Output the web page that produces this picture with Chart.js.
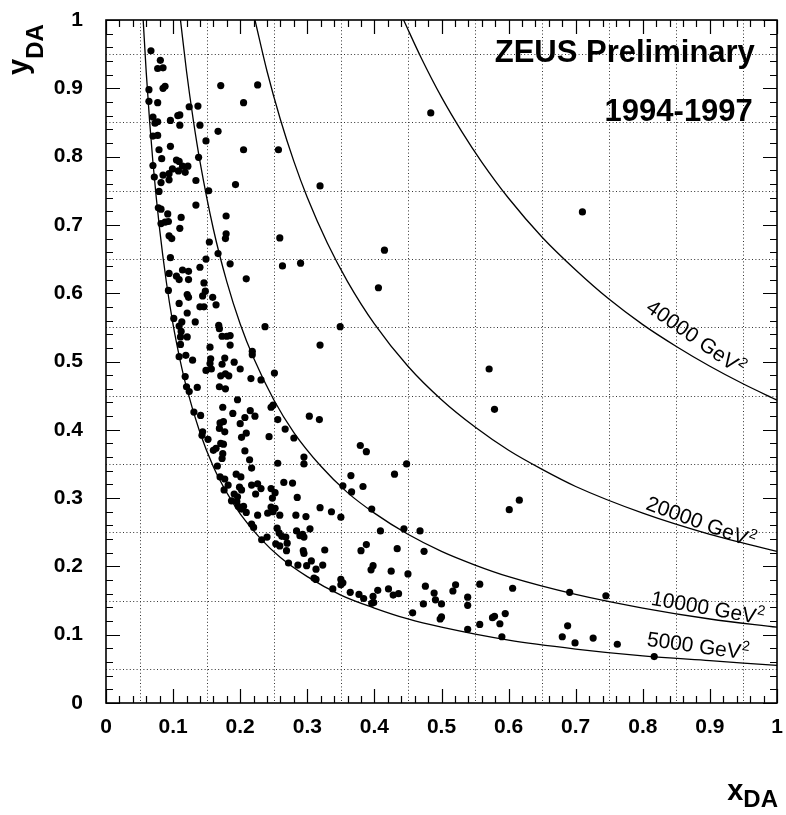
<!DOCTYPE html>
<html><head><meta charset="utf-8">
<script src="https://cdn.jsdelivr.net/npm/chart.js@4.4.1/dist/chart.umd.min.js"></script>
<style>html,body{margin:0;padding:0;background:#fff;}canvas{display:block;}</style>
</head><body>
<canvas id="c" width="786" height="815"></canvas>
<script>
// ---------- data ----------
const tickValues = [0,0.1,0.2,0.3,0.4,0.5,0.6,0.7,0.8,0.9,1];
const tickLabels = ['0','0.1','0.2','0.3','0.4','0.5','0.6','0.7','0.8','0.9','1'];
const gridValues = [0.05,0.15,0.25,0.35,0.45,0.55,0.65,0.75,0.85,0.95];

const ptsX = [
0.067,0.081,0.077,0.085,0.064,0.085,0.088,0.171,0.064,0.077,0.205,0.124,0.137,0.070,0.073,0.077,0.096,0.107,0.110,0.110,
0.140,0.070,0.077,0.167,0.149,0.079,0.096,0.205,0.083,0.105,0.109,0.138,0.070,0.114,0.122,0.099,0.108,0.118,0.085,0.072,
0.094,0.094,0.082,0.134,0.193,0.153,0.079,0.134,0.078,0.082,
0.092,0.112,0.179,0.082,0.088,0.093,0.110,0.179,0.178,0.094,0.098,0.154,0.167,0.096,0.149,0.185,0.140,0.114,0.123,0.094,
0.105,0.109,0.123,0.209,0.146,0.093,0.148,0.121,0.123,0.144,0.159,0.109,0.164,0.140,0.146,0.121,0.101,0.133,0.113,0.109,
0.168,0.169,0.112,0.111,0.121,0.173,0.180,0.185,0.111,0.185,0.155,0.218,0.218,0.109,0.119,0.129,0.156,0.177,0.191,0.155,
0.149,0.157,0.173,0.200,0.171,0.178,0.183,0.118,0.216,0.231,0.120,0.124,0.136,0.169,0.178,0.196,
0.226,0.484,0.257,0.319,0.259,0.415,0.263,0.290,0.406,0.237,0.349,0.319,0.251,0.710,0.571,
0.131,0.141,0.174,0.189,0.207,0.215,0.222,0.246,0.249,0.256,0.170,0.175,0.200,0.169,0.177,0.144,0.143,0.267,0.209,0.202,
0.152,0.243,0.280,0.171,0.175,0.160,0.164,0.207,0.174,0.173,0.214,0.256,0.295,0.295,0.217,0.166,0.194,0.201,0.170,0.177,
0.265,0.278,0.182,0.176,0.217,0.226,0.231,0.199,0.202,0.246,0.252,0.191,0.223,0.285,0.196,0.195,0.187,0.248,0.197,0.205,
0.202,0.209,0.246,0.252,0.249,0.259,0.226,0.241,0.283,0.217,0.220,0.255,0.232,0.240,0.258,0.262,0.268,0.284,0.289,0.293,
0.295,0.253,0.259,0.270,0.269,0.294,0.295,0.272,0.286,
0.303,0.318,0.379,0.388,0.448,0.430,0.365,0.353,0.366,0.383,0.319,0.336,0.298,0.350,0.396,0.304,0.444,0.409,0.468,0.326,
0.388,0.380,0.434,0.474,0.306,0.299,0.313,0.323,0.310,0.313,0.398,0.395,0.425,0.450,0.350,0.353,0.350,0.338,0.364,0.377,
0.384,0.398,0.399,0.396,0.405,0.421,0.428,0.436,0.476,0.489,0.491,0.500,0.521,0.517,0.473,0.539,0.539,0.557,0.457,0.500,
0.498,0.557,0.539,
0.579,0.616,0.601,0.606,0.691,0.745,0.579,0.576,0.595,0.587,0.590,0.688,0.680,0.699,0.726,0.762,0.817
];
const ptsY = [
0.955,0.941,0.929,0.930,0.898,0.900,0.903,0.904,0.881,0.879,0.879,0.873,0.874,0.858,0.849,0.851,0.853,0.860,0.861,0.846,
0.846,0.830,0.831,0.837,0.823,0.810,0.815,0.810,0.797,0.795,0.793,0.799,0.787,0.786,0.786,0.782,0.779,0.777,0.773,0.770,
0.775,0.766,0.762,0.765,0.759,0.750,0.749,0.729,0.725,0.723,
0.716,0.711,0.713,0.702,0.704,0.705,0.695,0.687,0.680,0.684,0.680,0.675,0.658,0.652,0.650,0.643,0.638,0.634,0.632,0.629,
0.625,0.620,0.620,0.621,0.615,0.604,0.603,0.598,0.594,0.596,0.594,0.585,0.583,0.580,0.580,0.571,0.563,0.558,0.558,0.552,
0.553,0.548,0.544,0.536,0.536,0.537,0.537,0.538,0.525,0.524,0.521,0.515,0.510,0.507,0.509,0.502,0.504,0.505,0.499,0.497,
0.487,0.489,0.496,0.489,0.479,0.482,0.479,0.478,0.475,0.473,0.463,0.456,0.462,0.463,0.460,0.444,
0.905,0.864,0.810,0.757,0.681,0.663,0.640,0.644,0.608,0.551,0.551,0.524,0.483,0.719,0.489,
0.426,0.421,0.433,0.424,0.418,0.428,0.420,0.433,0.436,0.415,0.410,0.412,0.409,0.402,0.397,0.397,0.392,0.401,0.395,0.389,
0.386,0.390,0.388,0.380,0.379,0.370,0.373,0.369,0.365,0.358,0.356,0.351,0.360,0.350,0.344,0.347,0.335,0.331,0.331,0.328,
0.323,0.322,0.319,0.312,0.319,0.321,0.314,0.316,0.312,0.314,0.308,0.306,0.306,0.301,0.302,0.295,0.296,0.300,0.288,0.288,
0.284,0.279,0.287,0.285,0.280,0.275,0.275,0.278,0.275,0.262,0.257,0.256,0.239,0.243,0.249,0.244,0.243,0.252,0.245,0.247,
0.243,0.233,0.230,0.234,0.223,0.223,0.219,0.205,0.202,
0.420,0.415,0.377,0.368,0.350,0.335,0.333,0.318,0.309,0.317,0.286,0.280,0.273,0.272,0.284,0.255,0.255,0.252,0.252,0.224,
0.232,0.223,0.226,0.222,0.208,0.201,0.196,0.202,0.183,0.181,0.201,0.195,0.193,0.189,0.181,0.176,0.173,0.167,0.162,0.159,
0.153,0.156,0.147,0.146,0.165,0.167,0.158,0.160,0.171,0.161,0.151,0.145,0.173,0.164,0.145,0.155,0.143,0.174,0.132,0.126,
0.123,0.115,0.108,
0.430,0.297,0.283,0.168,0.162,0.157,0.127,0.125,0.131,0.116,0.097,0.113,0.097,0.088,0.095,0.086,0.068
];

// iso-Q2 lines, values
const q5000X  = [0.0554,0.06,0.065,0.07,0.08,0.09,0.1,0.11,0.12,0.14,0.16,0.18,0.2,0.23,0.26,0.3,0.35,0.4,0.45,0.5,0.6,0.7,0.8,0.9,1.0];
const q5000Y  = [1.0,0.923,0.852,0.791,0.693,0.616,0.554,0.504,0.462,0.396,0.346,0.308,0.277,0.241,0.213,0.185,0.158,0.139,0.123,0.111,0.092,0.079,0.069,0.062,0.055];
const q10000X = [0.111,0.12,0.13,0.14,0.16,0.18,0.2,0.22,0.25,0.28,0.32,0.36,0.4,0.45,0.5,0.55,0.6,0.7,0.8,0.9,1.0];
const q10000Y = [1.0,0.925,0.854,0.793,0.694,0.617,0.555,0.505,0.444,0.396,0.347,0.308,0.278,0.247,0.222,0.202,0.185,0.159,0.139,0.123,0.111];
const q20000X = [0.222,0.24,0.26,0.28,0.3,0.33,0.36,0.4,0.45,0.5,0.55,0.6,0.65,0.7,0.8,0.9,1.0];
const q20000Y = [1.0,0.925,0.854,0.793,0.74,0.673,0.617,0.555,0.493,0.444,0.404,0.37,0.342,0.317,0.278,0.247,0.222];
const q40000X = [0.4435,0.47,0.5,0.53,0.56,0.6,0.65,0.7,0.75,0.8,0.85,0.9,0.95,1.0];
const q40000Y = [1.0,0.944,0.887,0.837,0.792,0.739,0.682,0.634,0.591,0.554,0.522,0.493,0.467,0.4435];

const curveNames = ['5000 GeV','10000 GeV','20000 GeV','40000 GeV'];
const titleLines = ['ZEUS Preliminary','1994-1997'];

// ---------- layout / style (not data) ----------
const FONT = '"Liberation Sans", Arial, Helvetica, sans-serif';
const curveLabelCfg = [
  {x:0.805, y:0.084, rot:8},
  {x:0.811, y:0.144, rot:10},
  {x:0.803, y:0.284, rot:20},
  {x:0.803, y:0.575, rot:35}
];
const titleCfg = [{x:0.967, y:0.939},{x:0.964, y:0.8526}];

const zip = (xs, ys) => xs.map((x,i)=>({x, y:ys[i]}));
const lineDs = (xs, ys) => ({data: zip(xs, ys), showLine:true, borderColor:'#000', borderWidth:1.3,
  pointRadius:0, fill:false, cubicInterpolationMode:'monotone'});

const framePlugin = {
  id:'frame',
  beforeDatasetsDraw(chart){
    const {ctx, chartArea:a, scales:{x, y}} = chart;
    ctx.save();
    ctx.strokeStyle = '#333'; ctx.lineWidth = 1; ctx.setLineDash([1,2.4]);
    gridValues.forEach(v => {
      const px = Math.round(x.getPixelForValue(v)) + 0.5;
      ctx.beginPath(); ctx.moveTo(px, a.top); ctx.lineTo(px, a.bottom); ctx.stroke();
      const py = Math.round(y.getPixelForValue(v)) + 0.5;
      ctx.beginPath(); ctx.moveTo(a.left, py); ctx.lineTo(a.right, py); ctx.stroke();
    });
    ctx.restore();
  },
  afterDatasetsDraw(chart){
    const {ctx, chartArea:a, scales:{x, y}} = chart;
    ctx.save();
    ctx.strokeStyle = '#000'; ctx.lineWidth = 1.2; ctx.setLineDash([]);
    for (let i = 0; i <= 50; i++) {
      const v = i / 50, len = (i % 5 === 0) ? 14 : 7;
      const px = Math.round(x.getPixelForValue(v)) + 0.5;
      ctx.beginPath();
      ctx.moveTo(px, a.bottom); ctx.lineTo(px, a.bottom - len);
      ctx.moveTo(px, a.top); ctx.lineTo(px, a.top + len);
      const py = Math.round(y.getPixelForValue(v)) + 0.5;
      ctx.moveTo(a.left, py); ctx.lineTo(a.left + len, py);
      ctx.moveTo(a.right, py); ctx.lineTo(a.right - len, py);
      ctx.stroke();
    }
    ctx.lineWidth = 1.6;
    ctx.strokeRect(a.left, a.top, a.right - a.left, a.bottom - a.top);
    ctx.restore();
  },
  afterDraw(chart){
    const {ctx, chartArea:a, scales:{x, y}} = chart;
    ctx.save();
    ctx.fillStyle = '#000';
    ctx.font = 'bold 31px ' + FONT; ctx.textAlign = 'right'; ctx.textBaseline = 'alphabetic';
    titleLines.forEach((t, i) => ctx.fillText(t, x.getPixelForValue(titleCfg[i].x), y.getPixelForValue(titleCfg[i].y)));
    ctx.textAlign = 'left';
    curveNames.forEach((t, i) => {
      const c = curveLabelCfg[i];
      ctx.save();
      ctx.translate(x.getPixelForValue(c.x), y.getPixelForValue(c.y));
      ctx.rotate(c.rot * Math.PI / 180);
      ctx.font = '21px ' + FONT;
      ctx.fillText(t, 0, 0);
      const w = ctx.measureText(t).width;
      ctx.font = '14px ' + FONT;
      ctx.fillText('2', w + 0.5, -9);
      ctx.restore();
    });
    ctx.font = 'bold 24px ' + FONT;
    const wDA = ctx.measureText('DA').width;
    ctx.font = 'bold 29px ' + FONT;
    const wx = ctx.measureText('x').width;
    const x0 = a.right + 1 - wDA - wx;
    ctx.fillText('x', x0, 800);
    ctx.font = 'bold 24px ' + FONT;
    ctx.fillText('DA', x0 + wx, 807);
    ctx.save();
    ctx.translate(28, 75);
    ctx.rotate(-Math.PI / 2);
    ctx.font = 'bold 29px ' + FONT;
    ctx.fillText('y', 0, 0);
    const wy = ctx.measureText('y').width;
    ctx.font = 'bold 24px ' + FONT;
    ctx.fillText('DA', wy, 15);
    ctx.restore();
    ctx.restore();
  }
};

const tickFont = {family: FONT, size: 21, weight: 'bold'};
new Chart(document.getElementById('c'), {
  type: 'scatter',
  data: {
    datasets: [
      {data: zip(ptsX, ptsY), showLine:false, pointRadius:3.6, pointBackgroundColor:'#000', pointBorderWidth:0, pointBorderColor:'#000'},
      lineDs(q5000X, q5000Y),
      lineDs(q10000X, q10000Y),
      lineDs(q20000X, q20000Y),
      lineDs(q40000X, q40000Y)
    ]
  },
  options: {
    responsive:false, animation:false, devicePixelRatio:1,
    layout: {padding: {top:20, right:9, left:0, bottom:0}},
    plugins: {legend:{display:false}, tooltip:{enabled:false}},
    scales: {
      x: {
        type:'linear', min:0, max:1,
        grid:{display:false, drawTicks:false}, border:{display:false},
        afterBuildTicks: s => { s.ticks = tickValues.map(v => ({value:v})); },
        afterFit: s => { s.height = 112; s.paddingLeft = 0; s.paddingRight = 0; },
        ticks: {callback:(v, i) => tickLabels[i], font:tickFont, color:'#000', padding:12, maxRotation:0, autoSkip:false}
      },
      y: {
        type:'linear', min:0, max:1,
        grid:{display:false, drawTicks:false}, border:{display:false},
        afterBuildTicks: s => { s.ticks = tickValues.map(v => ({value:v})); },
        afterFit: s => { s.width = 106; s.paddingTop = 0; s.paddingBottom = 0; },
        ticks: {callback:(v, i) => tickLabels[i], font:tickFont, color:'#000', padding:23, autoSkip:false}
      }
    }
  },
  plugins: [framePlugin]
});
</script>
</body></html>
